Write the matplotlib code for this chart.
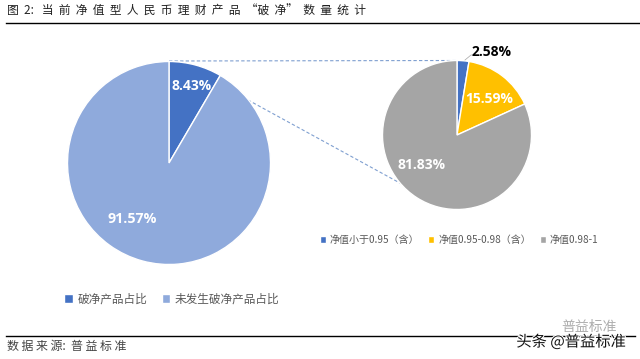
import matplotlib
matplotlib.use('Agg')
import matplotlib.pyplot as plt
import matplotlib.patheffects as pe

plt.rcParams['font.family'] = ['Noto Sans CJK SC', 'DejaVu Sans']

main_labels = ['破净产品占比', '未发生破净产品占比']
main_values = [8.43, 91.57]
main_colors = ['#4472C4', '#8FAADC']

sub_labels = ['净值小于0.95（含）', '净值0.95-0.98（含）', '净值0.98-1']
sub_values = [2.58, 15.59, 81.83]
sub_colors = ['#4472C4', '#FFC000', '#A5A5A5']

title = '图  2:   当  前  净  值  型  人  民  币  理  财  产  品  “破  净”  数  量  统  计'
source = '数 据 来 源:  普 益 标 准'

fig = plt.figure(figsize=(6.4, 3.59), dpi=100)
ax = fig.add_axes([0, 0, 1, 1])

# dashed connectors sit behind the pies
ax.plot([169, 457], [359 - 61, 359 - 60.5], color='#7F9FD0', lw=0.8, ls=(0, (3, 2)), zorder=0)
ax.plot([248, 420], [359 - 100, 359 - 194], color='#7F9FD0', lw=0.8, ls=(0, (3, 2)), zorder=0)

# pies, clockwise from 12 o'clock
w1, _ = ax.pie(main_values, colors=main_colors, startangle=90, counterclock=False,
               center=(169, 359 - 163), radius=101.5, frame=False,
               wedgeprops={'edgecolor': 'white', 'linewidth': 1})
w2, _ = ax.pie(sub_values, colors=sub_colors, startangle=90, counterclock=False,
               center=(457, 359 - 135), radius=74.5, frame=False,
               wedgeprops={'edgecolor': 'white', 'linewidth': 1})
ax.set_xlim(0, 640)
ax.set_ylim(0, 359)
ax.axis('off')

# value labels
pct_font = ['Open Sans', 'DejaVu Sans']
ax.text(192, 359 - 86, '8.43%', color='white', fontsize=10, fontweight='bold',
        ha='center', va='center', family=pct_font)
ax.text(132, 359 - 219, '91.57%', color='white', fontsize=10.3, fontweight='bold',
        ha='center', va='center', family=pct_font)
ax.text(492, 359 - 52, '2.58%', color='black', fontsize=10, fontweight='bold',
        ha='center', va='center', family=pct_font)
ax.text(489, 359 - 99, '15.59%', color='white', fontsize=10, fontweight='bold',
        ha='center', va='center', family=pct_font)
ax.text(422, 359 - 165, '81.83%', color='white', fontsize=10, fontweight='bold',
        ha='center', va='center', family=pct_font)
ax.plot([465, 471, 473], [359 - 60, 359 - 55, 359 - 55], color='#A5A5A5', lw=0.5)

# legends
leg1 = ax.legend(w1, main_labels, ncol=2, loc='center', frameon=False,
                 bbox_to_anchor=(172 / 640, 1 - 299 / 359), fontsize=8.4,
                 labelcolor='#595959', handlelength=0.75, handleheight=0.75,
                 handletextpad=0.4, columnspacing=1.2)
ax.add_artist(leg1)
ax.legend(w2, sub_labels, ncol=3, loc='center', frameon=False,
          bbox_to_anchor=(459 / 640, 1 - 240 / 359), fontsize=7.2,
          labelcolor='#595959', handlelength=0.6, handleheight=0.6,
          handletextpad=0.4, columnspacing=0.9)

# header and footer
ax.text(7, 359 - 11, title, fontsize=8.5, color='#222222', va='center', ha='left')
ax.plot([6, 640], [359 - 22.5, 359 - 22.5], color='black', lw=1)
ax.plot([6, 635], [359 - 336, 359 - 336], color='black', lw=1)
ax.text(7, 359 - 346, source, fontsize=8.6, color='#444444', va='center', ha='left')

# watermark
ax.text(589, 359 - 327, '普益标准', fontsize=10, color='#777777', va='center', ha='center', alpha=0.6)
ax.text(571, 359 - 342, '头条 @普益标准', fontsize=11, color='#111111', va='center', ha='center',
        path_effects=[pe.withStroke(linewidth=1.5, foreground='white')])

fig.savefig('out.png', dpi=100)
